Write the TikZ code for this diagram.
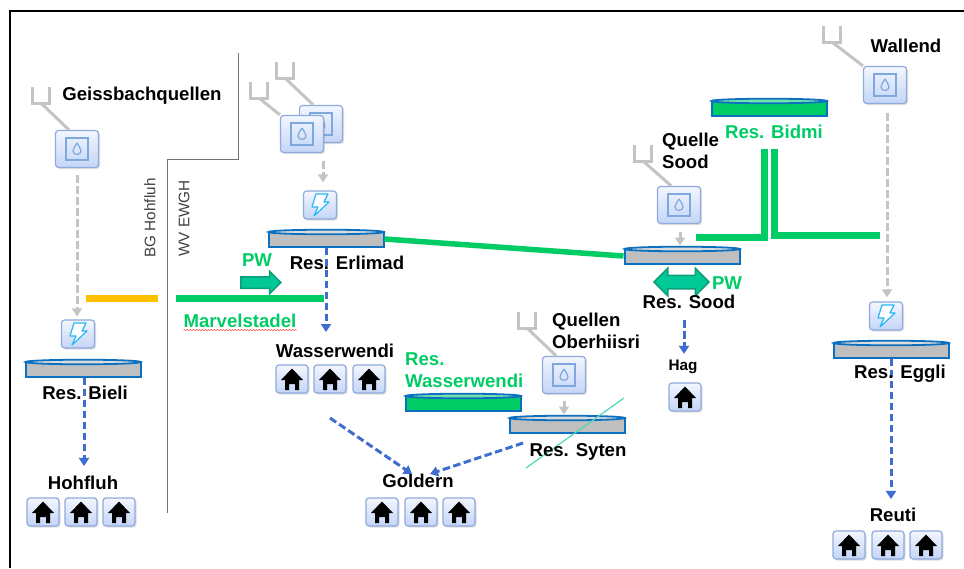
\documentclass[tikz,border=0pt]{standalone}
\usepackage{fontspec}
\setmainfont{Liberation Sans}
\usetikzlibrary{arrows.meta}
\usetikzlibrary{shadows}
\usetikzlibrary{shapes.arrows}
\usetikzlibrary{decorations.pathmorphing}
\definecolor{tilerim}{HTML}{8FAADC}
\definecolor{tilelight}{HTML}{F2F6FE}
\definecolor{tiledark}{HTML}{C4D5F7}
\definecolor{iconblue}{HTML}{7FA8DC}
\definecolor{boltblue}{HTML}{29B6F6}
\definecolor{tankblue}{HTML}{0B70C0}
\definecolor{tankgrey}{HTML}{BFBFBF}
\definecolor{pipegreen}{HTML}{00CC66}
\definecolor{pipeyellow}{HTML}{FFC000}
\definecolor{flowblue}{HTML}{3F6CCF}
\definecolor{flowgrey}{HTML}{C4C4C4}
\definecolor{pwfill}{HTML}{00C896}
\definecolor{pwrim}{HTML}{0B9E78}
\tikzset{
  tile/.style = {draw=tilerim, line width=1.2pt, rounded corners=3pt, top color=tilelight, bottom color=tiledark, inner sep=0pt, drop shadow={shadow xshift=1.5pt, shadow yshift=-1.5pt, opacity=0.25}},
  tankbody/.style = {draw=tankblue, line width=2pt, minimum width=115pt, minimum height=15pt, inner sep=0pt},
  placetext/.style = {font=\fontsize{18.6}{22}\selectfont\bfseries, inner sep=0pt, align=left},
  greentext/.style = {placetext, text=pipegreen},
  sidetext/.style = {font=\fontsize{15.3}{18}\selectfont, text=black!75, rotate=90, inner sep=0pt},
  forkline/.style = {draw=flowgrey, line width=3pt},
  greyflow/.style = {draw=flowgrey, line width=3pt, dash pattern=on 7.5pt off 3.5pt, -{Triangle[length=8pt,width=10pt]}},
  blueflow/.style = {draw=flowblue, line width=3pt, dash pattern=on 7.5pt off 3.5pt, -{Triangle[length=8pt,width=10pt]}},
  pipe/.style = {draw=pipegreen, line width=7pt},
  border/.style = {draw=black!55, line width=1pt}
}
\newcommand{\watertile}[3]{
  \node[tile, minimum width=43pt, minimum height=37pt] (#1) at (#2,#3) {};
  \begin{scope}[shift={(#2,#3)}]
    \draw[iconblue, line width=1.2pt] (-11,-11) rectangle (11,11);
    \draw[iconblue, line width=1.2pt] (0,-6) .. controls (1.5,-3) and (4,-1) .. (4,2) .. controls (4,6.5) and (-4,6.5) .. (-4,2) .. controls (-4,-1) and (-1.5,-3) .. (0,-6);
  \end{scope}
}
\newcommand{\bolttile}[3]{
  \node[tile, minimum width=33pt, minimum height=28pt] (#1) at (#2,#3) {};
  \begin{scope}[shift={(#2,#3)}]
    \draw[boltblue, line width=1.2pt, fill=white, line join=round] (-4,-11) -- (8,-11) -- (4,-3) -- (9,-3) -- (-6,11) -- (-2,2) -- (-8,2) -- cycle;
  \end{scope}
}
\newcommand{\housetile}[3]{
  \node[tile, minimum width=32pt, minimum height=28pt] (#1) at (#2,#3) {};
  \begin{scope}[shift={(#2,#3)}]
    \fill[black] (0,-10.5) -- (11,1) -- (7,1) -- (7,11) -- (3,11) -- (3,5) -- (-3,5) -- (-3,11) -- (-7,11) -- (-7,1) -- (-11,1) -- cycle;
  \end{scope}
}
\newcommand{\tank}[4]{
  \node[tankbody, fill=#4] (#1) at (#2,#3) {};
  \draw[tankblue, line width=1.8pt, fill=#4!55!white] (#2,#3-7) ellipse (57.5 and 2.3);
}
\newcommand{\fork}[3]{
  \coordinate (#1) at (#2,#3);
  \draw[forkline, shift={(#2,#3)}] (-8.5,-16) -- (-8.5,0) -- (8.5,0) -- (8.5,-16);
}
\begin{document}
\begin{tikzpicture}[x=1pt,y=-1pt]
\useasboundingbox (0,0) rectangle (964,568);
\draw[black, line width=2pt] (10,568) -- (10,11) -- (964,11);
\draw[border] (238,53) -- (238,159.5) -- (167.5,159.5) -- (167.5,513);
\node[sidetext] (bghohfluh) at (150,218) {BG Hohfluh};
\node[sidetext] (wvewgh) at (184,218.5) {WV EWGH};

% reservoirs
\tank{bieli}{83}{369}{tankgrey}
\tank{erlimad}{326}{239}{tankgrey}
\tank{sood}{682}{256}{tankgrey}
\tank{bidmi}{769}{108}{pipegreen}
\tank{wasserres}{463}{403}{pipegreen}
\tank{syten}{567}{425}{tankgrey}
\tank{eggli}{891}{350}{tankgrey}

% sources
\watertile{geiss}{77}{149}
\watertile{erlimadback}{321}{124}
\watertile{erlimadfront}{302}{134}
\watertile{oberhiisri}{564}{375}
\watertile{quellesood}{679}{205}
\watertile{wallend}{885}{85}
\fork{forkgeiss}{41}{103}
\fork{forkfront}{259}{98}
\fork{forkback}{285}{78}
\fork{forkober}{527}{328}
\fork{forksood}{643}{161}
\fork{forkwall}{832}{42}
\draw[forkline] (forkgeiss) -- (geiss.113);
\draw[forkline] (forkfront) -- (erlimadfront.north west);
\draw[forkline] (forkback) -- (erlimadback.112);
\draw[forkline] (forkober) -- (oberhiisri.112);
\draw[forkline] (forksood) -- (quellesood.112);
\draw[forkline] (forkwall) -- (wallend.north west);

% pumps
\bolttile{boltbieli}{78}{334}
\bolttile{bolterlimad}{320}{205}
\bolttile{bolteggli}{886}{316}

% houses
\housetile{hoh1}{43}{512}
\housetile{hoh2}{81}{512}
\housetile{hoh3}{119}{512}
\housetile{was1}{292}{379}
\housetile{was2}{330}{379}
\housetile{was3}{369}{379}
\housetile{gol1}{382}{512}
\housetile{gol2}{421}{512}
\housetile{gol3}{459}{512}
\housetile{hag1}{685}{397}
\housetile{reu1}{849}{545}
\housetile{reu2}{888}{545}
\housetile{reu3}{926}{545}

% green pipes
\coordinate (marvelleft) at (176,298);
\coordinate (marvelright) at (324,298);
\coordinate (goldleft) at (86,298);
\coordinate (goldright) at (158,298);
\coordinate (soodpipe) at (696,237.5);
\coordinate (elbowleft) at (764.5,237.5);
\coordinate (bidmileft) at (764.5,149);
\coordinate (bidmiright) at (774.5,149);
\coordinate (elbowright) at (774.5,235.5);
\coordinate (wallpipe) at (880,235.5);
\draw[pipe] (marvelleft) -- (marvelright);
\draw[pipe, draw=pipeyellow] (goldleft) -- (goldright);
\draw[pipe, line width=5.5pt] (erlimad.east) -- (sood.west);
\draw[pipe] (soodpipe) -- (elbowleft) -- (bidmileft);
\draw[pipe] (bidmiright) -- (elbowright) -- (wallpipe);

% labels
\node[placetext] (goldern) at (418,481) {Goldern};
\node[placetext] (hohfluh) at (83,483) {Hohfluh};
\node[placetext] (wassertext) at (335,351) {Wasserwendi};
\node[placetext, font=\fontsize{15.3}{18}\selectfont\bfseries] (hag) at (683,367) {Hag};
\node[placetext] (reuti) at (893,515) {Reuti};

% grey flows
\coordinate (frontout) at (323,161);
\draw[greyflow, shorten <=7pt, shorten >=3pt] (geiss.south) -- (boltbieli.north -| geiss.south);
\draw[greyflow, shorten >=8pt] (frontout) -- (frontout |- bolterlimad.north);
\draw[greyflow, dash pattern={}, shorten <=7pt, shorten >=2pt] (oberhiisri.south) -- (oberhiisri.south |- syten.north);
\draw[greyflow, dash pattern={}, shorten <=8pt, shorten >=2pt] ([xshift=1pt]quellesood.south) -- ([xshift=1pt]quellesood.south |- sood.north);
\draw[greyflow, shorten <=9pt, shorten >=4pt] ([xshift=2pt]wallend.south) -- ([xshift=2pt]wallend.south |- bolteggli.north);

% blue flows
\coordinate (wasserout) at (330,418);
\coordinate (sytenout) at (523,443);
\coordinate (soodout) at (684,320);
\draw[blueflow] (erlimad.south) -- (326,332);
\draw[blueflow, shorten >=10pt] ([xshift=1pt]bieli.south) -- ([xshift=1pt]bieli.south |- hohfluh.north);
\draw[blueflow] (wasserout) -- ([xshift=-6pt]goldern.north);
\draw[blueflow] (sytenout) -- ([xshift=12pt]goldern.north);
\draw[blueflow, shorten >=6pt] (soodout) -- (soodout |- hag.north);
\draw[blueflow, shorten >=9pt] (eggli.south) -- (eggli.south |- reuti.north);
\coordinate (crossa) at (526,468);
\coordinate (crossb) at (624,398);
\draw[pwfill!70!white, line width=1.2pt] (crossa) -- (crossb);

% pure water arrows
\node[single arrow, draw=pwrim, fill=pwfill, line width=1.5pt, minimum width=21pt, minimum height=40pt, single arrow head extend=5.5pt, single arrow head indent=0pt, inner ysep=5pt, inner xsep=0pt] (pwright) at (258,282.5) {};
\node[double arrow, draw=pwrim, fill=pwfill, line width=1.5pt, minimum width=26pt, minimum height=55pt, double arrow head extend=7pt, inner ysep=6pt, inner xsep=0pt] (pwboth) at (681.5,282) {};

% remaining labels
\node[placetext] (geisstext) at (142,95.5) {Geissbachquellen};
\node[placetext] (bielitext) at (85,393) {Res. Bieli};
\node[placetext] (erlimadtext) at (347,263) {Res. Erlimad};
\node[greentext] (pwleft) at (257,260) {PW};
\node[greentext] (marvel) at (240,321) {Marvelstadel};
\draw[red!75, line width=0.5pt, decorate, decoration={snake, amplitude=0.7pt, segment length=3pt}] ([yshift=-2pt]marvel.south west) -- ([yshift=-2pt]marvel.south east);
\node[greentext, anchor=west] (wassergreen) at (405,370) {Res.\\Wasserwendi};
\node[placetext, anchor=west] (obertext) at (552,330.5) {Quellen\\Oberhiisri};
\node[placetext] (sytentext) at (578,452) {Res. Syten};
\node[placetext, anchor=west] (quelletext) at (662,151) {Quelle\\Sood};
\node[greentext] (bidmitext) at (774,132) {Res. Bidmi};
\node[placetext] (soodtext) at (689,302) {Res. Sood};
\node[greentext] (pwsood) at (727,283) {PW};
\node[placetext] (wallendtext) at (906,46) {Wallend};
\node[placetext] (egglitext) at (900,374) {Res. Eggli};
\end{tikzpicture}
\end{document}
